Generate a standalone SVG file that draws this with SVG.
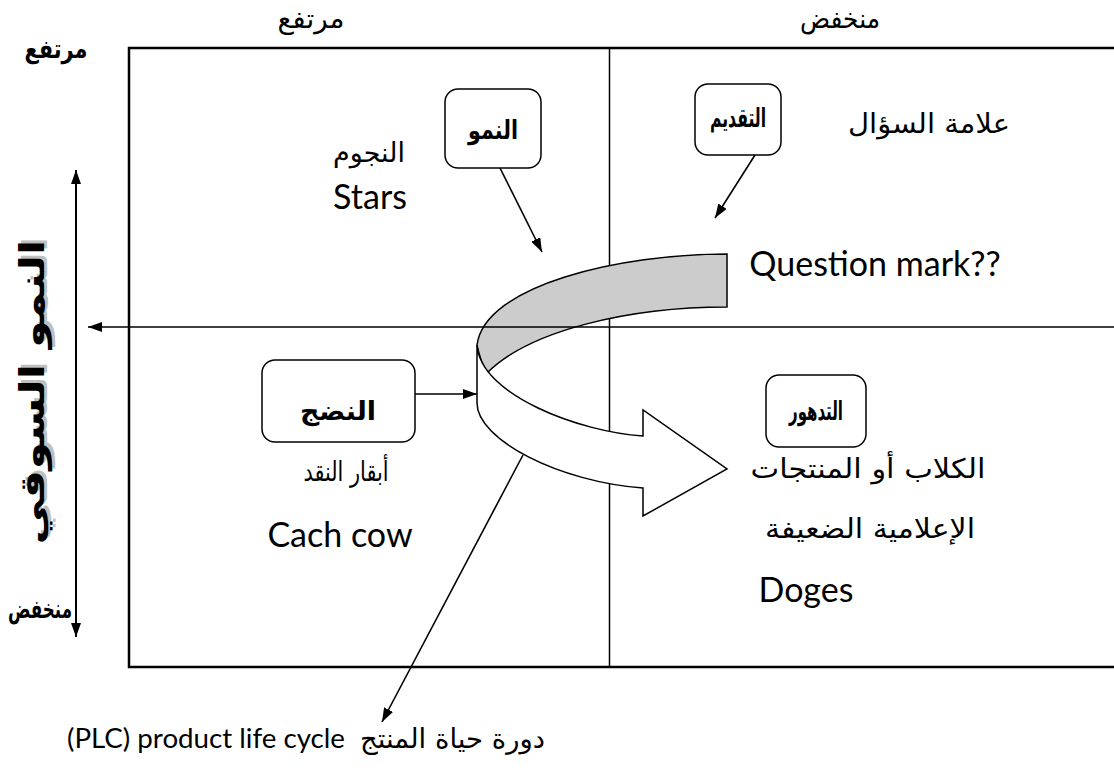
<svg xmlns="http://www.w3.org/2000/svg" width="1114" height="780" viewBox="0 0 1114 780">
<style>
.ar{font-family:"DejaVu Sans",sans-serif;font-size:27px;fill:#000}
.arb{font-family:"DejaVu Sans",sans-serif;font-size:26px;font-weight:bold;fill:#000}
.en{font-family:Lato,"DejaVu Sans",sans-serif;font-size:34px;fill:#000}
.box{fill:#fff;stroke:#000;stroke-width:1.5}
.ln{stroke:#000;stroke-width:1.6;fill:none}
.frame{stroke:#000;stroke-width:2.5;fill:none}
</style>
<defs>
<marker id="ah" viewBox="0 0 14 10" refX="14" refY="5" markerWidth="14" markerHeight="10" markerUnits="userSpaceOnUse" orient="auto"><path d="M0,0 L14,5 L0,10 z" fill="#000"/></marker>
<marker id="ahs" viewBox="0 0 14 10" refX="0" refY="5" markerWidth="14" markerHeight="10" markerUnits="userSpaceOnUse" orient="auto"><path d="M14,0 L0,5 L14,10 z" fill="#000"/></marker>
</defs>
<rect width="1114" height="780" fill="#fff"/>

<g id="frame">
<path class="frame" d="M1114,48 H129 V667 H1114"/>
<line x1="609.5" y1="48" x2="609.5" y2="667" stroke="#000" stroke-width="1.5"/>
</g>

<g id="axis-labels">
<text class="ar" x="311" y="28" text-anchor="middle" textLength="67" lengthAdjust="spacingAndGlyphs">مرتفع</text>
<text class="ar" x="840" y="28" text-anchor="middle" textLength="80" lengthAdjust="spacingAndGlyphs">منخفض</text>
<text class="arb" x="56" y="58" text-anchor="middle" font-size="29" textLength="63" lengthAdjust="spacingAndGlyphs">مرتفع</text>
<text class="arb" x="40" y="618" text-anchor="middle" font-size="29" textLength="64" lengthAdjust="spacingAndGlyphs">منخفض</text>
<g transform="translate(44,392) rotate(-90)">
<text x="3" y="3" text-anchor="middle" font-family="DejaVu Sans, sans-serif" font-weight="bold" font-size="34" fill="#c0c0c0" textLength="305" lengthAdjust="spacingAndGlyphs">النمو السوقي</text>
<text x="0" y="0" text-anchor="middle" font-family="DejaVu Sans, sans-serif" font-weight="bold" font-size="34" fill="#000" textLength="305" lengthAdjust="spacingAndGlyphs">النمو السوقي</text>
</g>
</g>

<g id="growth-arrow">
<path d="M727,254 C620,254 485,285 477,345 C480,360 483,366 487,373 C530,330 630,307 727,307 Z" fill="#cccccc" stroke="#000" stroke-width="1.5"/>
<path d="M477,345 C480,395 580,432 643,436 L643,410 L727,469 L643,516 L643,488 C560,482 477,440 477,403 Z" fill="#fff" stroke="#000" stroke-width="1.5"/>
</g>

<g id="connectors">
<line x1="1114" y1="327" x2="88" y2="327" stroke="#000" stroke-width="1.6" marker-end="url(#ah)"/>
<line x1="76" y1="170" x2="76" y2="637" stroke="#000" stroke-width="2" marker-start="url(#ahs)" marker-end="url(#ah)"/>
<line x1="500" y1="168" x2="542" y2="252" class="ln" marker-end="url(#ah)"/>
<line x1="755" y1="155" x2="715" y2="218" class="ln" marker-end="url(#ah)"/>
<line x1="415" y1="394" x2="477" y2="394" class="ln" marker-end="url(#ah)"/>
<line x1="523" y1="455" x2="382" y2="722" class="ln" marker-end="url(#ah)"/>
</g>

<g id="node-growth">
<rect class="box" x="445" y="89" width="96" height="79" rx="13"/>
<text class="arb" x="493" y="139" text-anchor="middle" textLength="50" lengthAdjust="spacingAndGlyphs">النمو</text>
</g>
<g id="node-intro">
<rect class="box" x="695" y="84" width="86" height="71" rx="13"/>
<text class="arb" x="738" y="127" text-anchor="middle" textLength="56" lengthAdjust="spacingAndGlyphs">التقديم</text>
</g>
<g id="node-maturity">
<rect class="box" x="262" y="360" width="153" height="82" rx="13"/>
<text class="arb" x="338" y="420" text-anchor="middle" textLength="76" lengthAdjust="spacingAndGlyphs">النضج</text>
</g>
<g id="node-decline">
<rect class="box" x="766" y="375" width="100" height="72" rx="13"/>
<text class="arb" x="816" y="420" text-anchor="middle" textLength="54" lengthAdjust="spacingAndGlyphs">التدهور</text>
</g>

<g id="quadrant-texts">
<text class="ar" x="369" y="162" text-anchor="middle" textLength="72" lengthAdjust="spacingAndGlyphs">النجوم</text>
<text class="en" x="370" y="209" text-anchor="middle">Stars</text>
<text class="ar" x="929" y="133" text-anchor="middle" textLength="162" lengthAdjust="spacingAndGlyphs">علامة السؤال</text>
<text class="en" x="875" y="276" text-anchor="middle">Question mark??</text>
<text class="ar" x="346" y="481" text-anchor="middle" textLength="85" lengthAdjust="spacingAndGlyphs">أبقار النقد</text>
<text class="en" x="340" y="547" text-anchor="middle">Cach cow</text>
<text class="ar" x="868" y="478" text-anchor="middle" textLength="235" lengthAdjust="spacingAndGlyphs">الكلاب أو المنتجات</text>
<text class="ar" x="870" y="538" text-anchor="middle" textLength="210" lengthAdjust="spacingAndGlyphs">الإعلامية الضعيفة</text>
<text class="en" x="806" y="602" text-anchor="middle">Doges</text>
<text x="67" y="748" font-family="Lato, 'DejaVu Sans', sans-serif" font-size="27" fill="#000" textLength="278" lengthAdjust="spacingAndGlyphs">(PLC) product life cycle</text>
<text class="ar" x="545" y="748" text-anchor="end" font-size="26" textLength="185" lengthAdjust="spacingAndGlyphs">دورة حياة المنتج</text>
</g>
</svg>
